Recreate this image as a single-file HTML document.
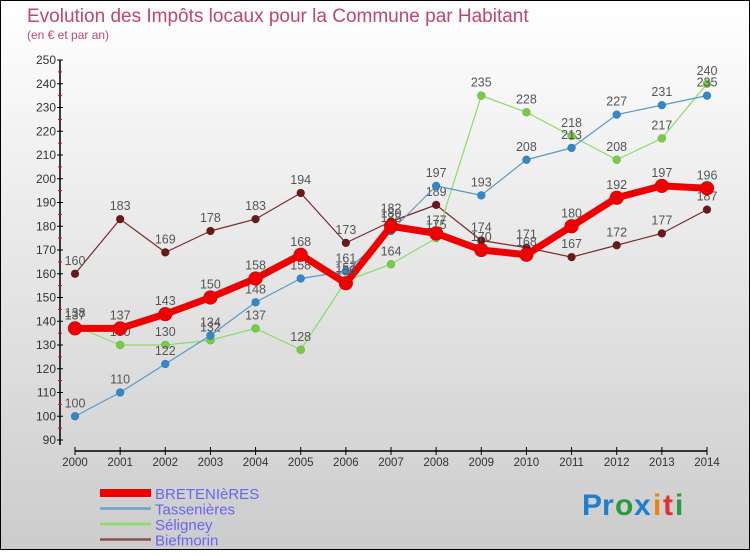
<!DOCTYPE html>
<html><head><meta charset="utf-8"><style>
html,body{margin:0;padding:0}
body{width:750px;height:550px;overflow:hidden;font-family:"Liberation Sans","DejaVu Sans",sans-serif}
</style></head><body>
<svg id="chart" width="750" height="550" xmlns="http://www.w3.org/2000/svg">
<defs><linearGradient id="bg" x1="0" y1="0" x2="0" y2="1"><stop offset="0" stop-color="#ffffff"/><stop offset="1" stop-color="#cccccc"/></linearGradient></defs>
<rect x="0.5" y="0.5" width="749" height="549" fill="url(#bg)" stroke="#000" stroke-width="1"/>
<text x="27" y="22" font-size="19" fill="#c2456e">Evolution des Impôts locaux pour la Commune par Habitant</text>
<text x="27" y="39" font-size="12" fill="#c2456e">(en € et par an)</text>
<g id="axes"></g><g id="series"></g><g id="legend"></g>
<g font-size="30" font-weight="bold">
<text x="582" y="515" fill="#1e7fd0">P</text><text x="602" y="515" fill="#1e7fd0">r</text><text x="615" y="515" fill="#2a9a40">o</text><text x="634" y="515" fill="#1e7fd0">x</text><text x="653" y="515" fill="#f07e10">i</text><text x="663" y="515" fill="#e03030">t</text><text x="675" y="515" fill="#2a9a40">i</text></g>
</svg>
<script>
const years=[2000,2001,2002,2003,2004,2005,2006,2007,2008,2009,2010,2011,2012,2013,2014];
const bretenieres=[137,137,143,150,158,168,156,180,177,170,168,180,192,197,196];
const tassenieres=[100,110,122,134,148,158,161,178,197,193,208,213,227,231,235];
const seligney=[138,130,130,132,137,128,157,164,175,235,228,218,208,217,240];
const biefmorin=[160,183,169,178,183,194,173,182,189,174,171,167,172,177,187];
const yTicks=[90,100,110,120,130,140,150,160,170,180,190,200,210,220,230,240,250];
const NS="http://www.w3.org/2000/svg";
function X(i){return 75+i*(707-75)/14;}
function Y(v){return 440-(v-90)*(380/160);}
function mk(t,a,p){const e=document.createElementNS(NS,t);for(const k in a)e.setAttribute(k,a[k]);p.appendChild(e);return e;}
const ax=document.getElementById('axes');
let yl=mk('line',{x1:60,y1:60,x2:60,y2:445,stroke:'#000','stroke-width':1.5},ax);


let xl=mk('line',{x1:75,y1:451,x2:707,y2:451,stroke:'#000','stroke-width':1.5},ax);


yTicks.forEach((v,i)=>{
  mk('line',{x1:57,y1:Y(v),x2:63,y2:Y(v),stroke:'#000'},ax);
  if(i<yTicks.length-1)mk('line',{x1:58,y1:Y(v+5),x2:62,y2:Y(v+5),stroke:'#e00'},ax);
  const t=mk('text',{x:56,y:Y(v)+4,'text-anchor':'end','font-size':12,fill:'#333'},ax);
  t.textContent=v;
  
  
});
years.forEach((yr,i)=>{
  mk('line',{x1:X(i),y1:447,x2:X(i),y2:455,stroke:'#000'},ax);
  const t=mk('text',{x:X(i),y:466,'text-anchor':'middle','font-size':11.5,fill:'#333'},ax);
  t.textContent=yr;
  
  
});
const sg=document.getElementById('series');
function series(data,name,color,dot,w,r){
  const g=mk('g',{},sg);
  
  
  mk('polyline',{points:data.map((v,i)=>X(i)+','+Y(v)).join(' '),fill:'none',stroke:color,'stroke-width':w,'stroke-linejoin':'round'},g);
  data.forEach((v,i)=>{
    const c=mk('circle',{cx:X(i),cy:Y(v),r:r,fill:dot,stroke:'rgba(0,0,0,0.25)','stroke-width':0.5},g);
    
    
    const t=mk('text',{x:X(i),y:Y(v)-9,'text-anchor':'middle','font-size':12.5,fill:'#555'},g);
    t.textContent=v;
    
    
  });
}
series(biefmorin,'biefmorin','#7a2a2a','#6a1818',1.2,4);
series(seligney,'seligney','#88dd66','#77cc44',1.2,4);
series(tassenieres,'tassenieres','#5599cc','#3388cc',1.2,4);
series(bretenieres,'bretenieres','#ee0000','#ee0000',7,7);
const lg=document.getElementById('legend');
[['BRETENIèRES','#ee0000',8,'bretenieres'],['Tassenières','#6fa0c8',2.5,'tassenieres'],['Séligney','#88dd66',2.5,'seligney'],['Biefmorin','#8a5050',2.5,'biefmorin']].forEach((e,i)=>{
  const y=493+i*15.5;
  const g=mk('g',{},lg);
  
  
  mk('line',{x1:100,y1:y,x2:151,y2:y,stroke:e[1],'stroke-width':e[2]},g);
  const t=mk('text',{x:155,y:y+6,'font-size':15,fill:'#6666ee'},g);
  t.textContent=e[0];
});
</script>
</body></html>
